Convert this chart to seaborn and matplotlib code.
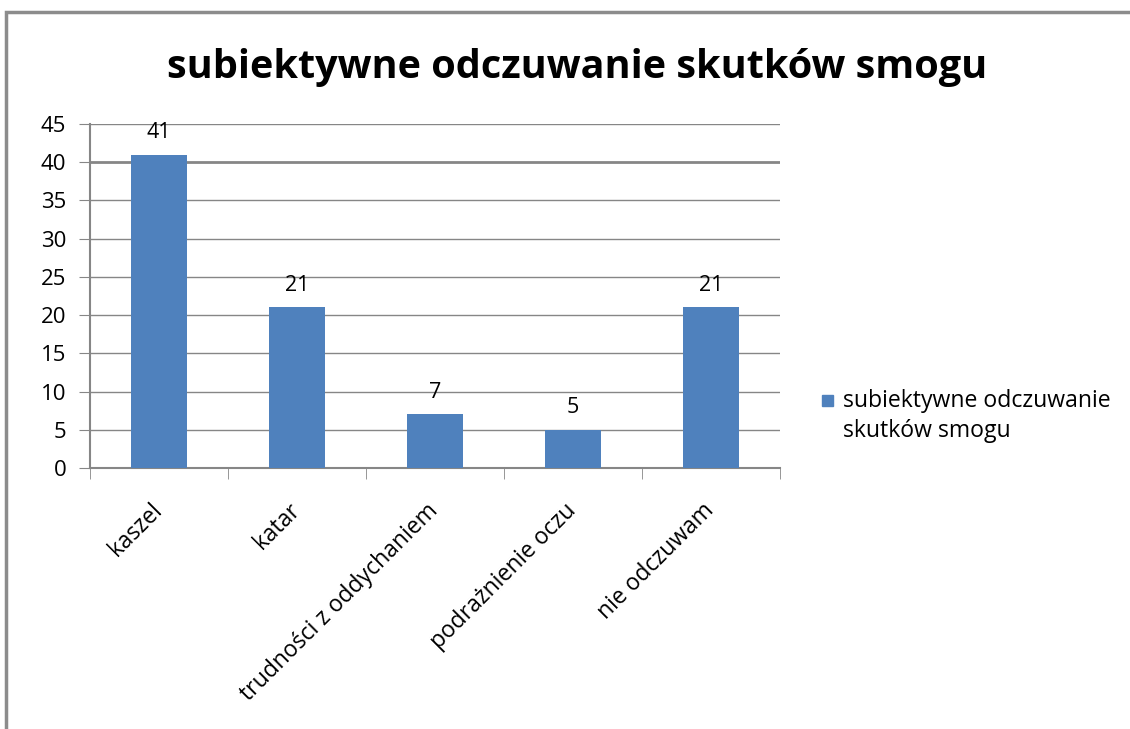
import pandas as pd
import matplotlib.pyplot as plt
import seaborn as sns
from matplotlib.patches import Rectangle
from matplotlib.transforms import ScaledTranslation

categories = ['kaszel', 'katar', 'trudności z oddychaniem', 'podrażnienie oczu', 'nie odczuwam']
values = [41, 21, 7, 5, 21]
series_name = 'subiektywne odczuwanie skutków smogu'
yticks = [0, 5, 10, 15, 20, 25, 30, 35, 40, 45]

data = pd.DataFrame({'kategoria': categories, 'liczba': values})

sns.set_style('white')
plt.rcParams['font.family'] = ['Open Sans', 'DejaVu Sans']
plt.rcParams['text.color'] = 'black'
plt.rcParams['xtick.color'] = 'black'
plt.rcParams['ytick.color'] = 'black'

fig = plt.figure(figsize=(11.3, 7.29), dpi=100)
ax = fig.add_axes([0.0796, 0.358, 0.6106, 0.472])

bar_color = '#4F81BD'
grid_color = '#868686'

sns.barplot(data=data, x='kategoria', y='liczba', color=bar_color, width=0.4,
            saturation=1, linewidth=0, ax=ax, zorder=3)

ax.set_ylim(0, 45)
ax.set_xlim(-0.5, len(categories) - 0.5)
ax.set_yticks(yticks)
ax.set_yticklabels([str(t) for t in yticks], fontsize=16)
ax.yaxis.grid(True, color=grid_color, linewidth=1, zorder=0)
ax.get_ygridlines()[8].set_linewidth(2)
ax.set_axisbelow(True)

for s in ['top', 'right']:
    ax.spines[s].set_visible(False)
for s in ['left', 'bottom']:
    ax.spines[s].set_color(grid_color)
    ax.spines[s].set_linewidth(1.5)

ax.tick_params(axis='y', which='both', left=True, length=8, color=grid_color, pad=9)

# category ticks on the boundaries, labels at the centres
ax.set_xticks([i - 0.5 for i in range(len(categories) + 1)], minor=True)
ax.set_xticks(range(len(categories)))
ax.tick_params(axis='x', which='minor', bottom=True, length=8, color=grid_color)
ax.tick_params(axis='x', which='major', bottom=False, length=0, pad=22)
ax.set_xticklabels(categories, rotation=45, ha='right', va='top',
                   rotation_mode='anchor', fontsize=16.5)
shift = ScaledTranslation(-9 / 100, 0, fig.dpi_scale_trans)
for lbl in ax.get_xticklabels():
    lbl.set_transform(lbl.get_transform() + shift)
ax.set_xlabel('')
ax.set_ylabel('')

for i, v in enumerate(values):
    ax.text(i, v + 1.5, str(v), ha='center', va='bottom', fontsize=15.5)

fig.text(0.511, 0.908, series_name, ha='center', va='center', fontsize=28.5, fontweight='bold')

# legend
fig.patches.append(Rectangle((822 / 1130, 1 - 406 / 729), 11 / 1130, 11 / 729,
                             transform=fig.transFigure, color=bar_color))
fig.text(843 / 1130, 1 - 416 / 729, 'subiektywne odczuwanie\nskutków smogu',
         ha='left', va='center', fontsize=16.6, linespacing=1.3)

# frame of the chart area
fig.patches.append(Rectangle((0.005, -0.1), 1.2, 1.0835, transform=fig.transFigure,
                             fill=False, edgecolor='#8c8c8c', linewidth=2.5))

fig.savefig('out.png', dpi=100)
